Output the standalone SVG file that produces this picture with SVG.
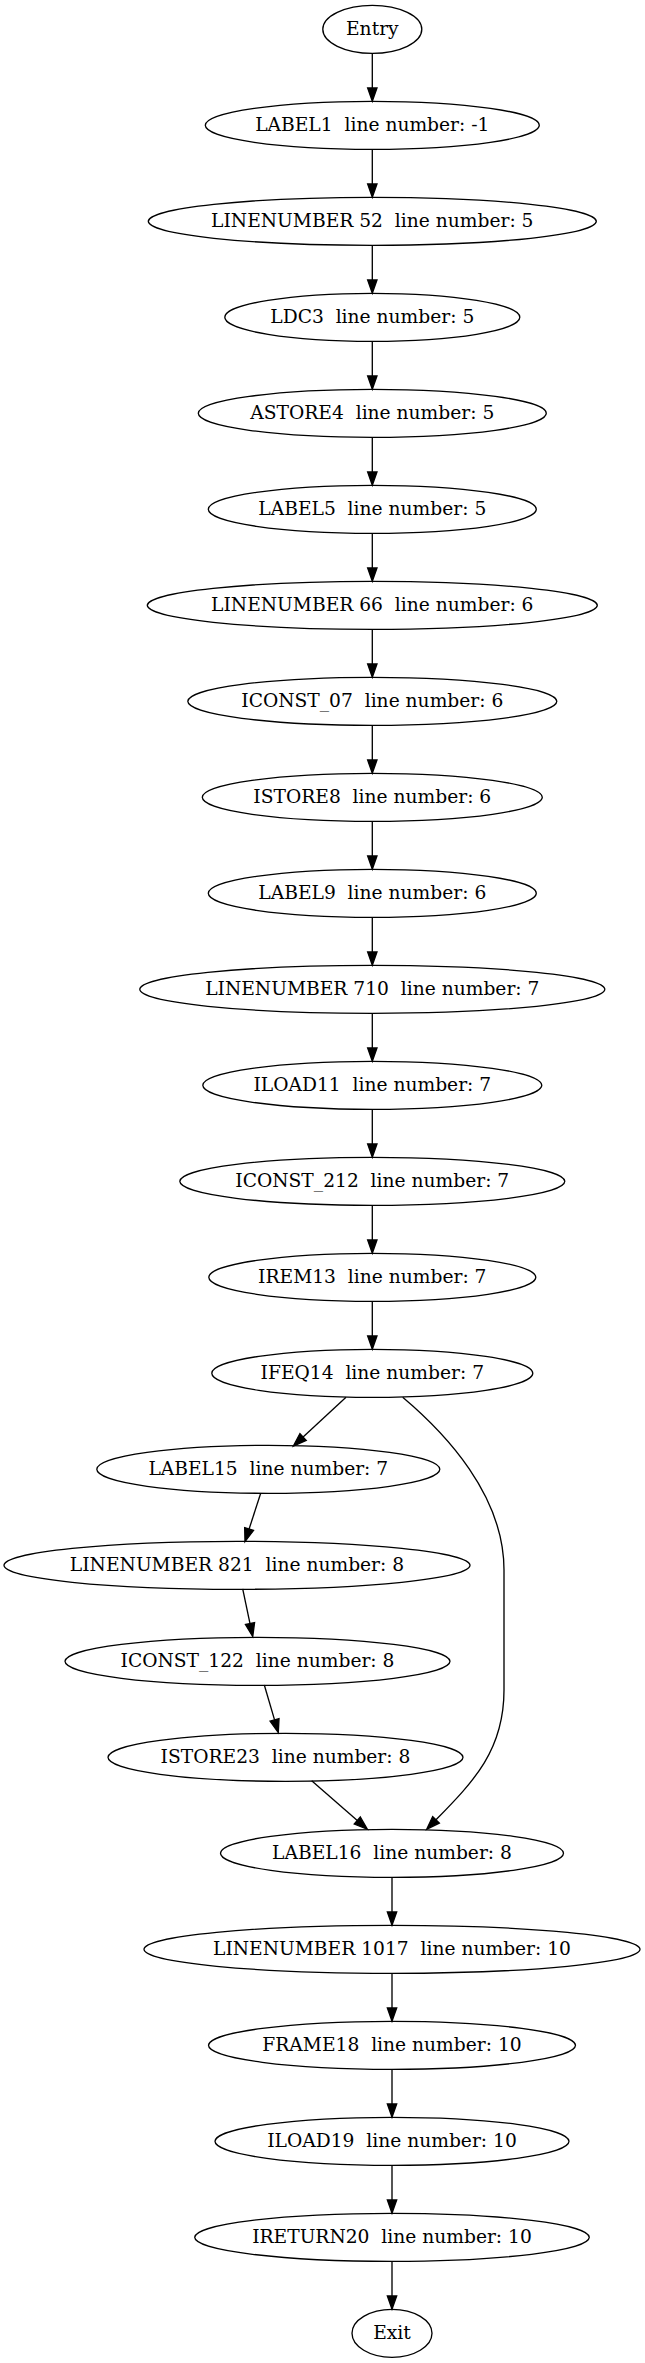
<svg xmlns="http://www.w3.org/2000/svg" width="645" height="2363" viewBox="0 0 645 2363">
<style>
.n ellipse{fill:none;stroke:#000;stroke-width:1.33}
.n text{font-family:"DejaVu Serif",serif;font-size:18.67px;text-anchor:middle;fill:#000;white-space:pre}
.e path{fill:none;stroke:#000;stroke-width:1.33;marker-end:url(#ah)}
</style>
<defs>
<marker id="ah" markerUnits="userSpaceOnUse" markerWidth="16" markerHeight="12" refX="0" refY="4.67" orient="auto" overflow="visible">
<path d="M0,0 L13.33,4.67 L0,9.33 z" fill="#000" stroke="#000" stroke-width="1.33"/>
</marker>
</defs>
<rect width="645" height="2363" fill="#fff"/>
<g id="edges" class="e">
<path d="M372.3,53.33 L372.3,88"/>
<path d="M372.3,149.33 L372.3,184"/>
<path d="M372.3,245.33 L372.3,280"/>
<path d="M372.3,341.33 L372.3,376"/>
<path d="M372.3,437.33 L372.3,472"/>
<path d="M372.3,533.33 L372.3,568"/>
<path d="M372.3,629.33 L372.3,664"/>
<path d="M372.3,725.33 L372.3,760"/>
<path d="M372.3,821.33 L372.3,856"/>
<path d="M372.3,917.33 L372.3,952"/>
<path d="M372.3,1013.33 L372.3,1048"/>
<path d="M372.3,1109.33 L372.3,1144"/>
<path d="M372.3,1205.33 L372.3,1240"/>
<path d="M372.3,1301.33 L372.3,1336"/>
<path d="M346,1397.3 L303.1,1437"/>
<path d="M402.7,1397.3 C445,1433 504,1495 504,1570 L504,1690 C504,1750 474,1781 436,1819.8"/>
<path d="M260.7,1493.3 L249.1,1529"/>
<path d="M242.7,1588.8 L250,1623.6"/>
<path d="M264.3,1685 L274.55,1719.9"/>
<path d="M311.7,1780.7 L357.3,1820.5"/>
<path d="M392,1877.33 L392,1912"/>
<path d="M392,1973.33 L392,2008"/>
<path d="M392,2069.33 L392,2104"/>
<path d="M392,2165.33 L392,2200"/>
<path d="M392,2261.33 L392,2296"/>
</g>
<g id="n0" class="n"><ellipse cx="372.3" cy="29.33" rx="49.5" ry="24"/><text x="372.3" y="34.9">Entry</text></g>
<g id="n1" class="n"><ellipse cx="372.3" cy="125.33" rx="167" ry="24"/><text x="372.3" y="130.9">LABEL1  line number: -1</text></g>
<g id="n2" class="n"><ellipse cx="372.3" cy="221.33" rx="224" ry="24"/><text x="372.3" y="226.9">LINENUMBER 52  line number: 5</text></g>
<g id="n3" class="n"><ellipse cx="372.3" cy="317.33" rx="147.5" ry="24"/><text x="372.3" y="322.9">LDC3  line number: 5</text></g>
<g id="n4" class="n"><ellipse cx="372.3" cy="413.33" rx="174" ry="24"/><text x="372.3" y="418.9">ASTORE4  line number: 5</text></g>
<g id="n5" class="n"><ellipse cx="372.3" cy="509.33" rx="164" ry="24"/><text x="372.3" y="514.9">LABEL5  line number: 5</text></g>
<g id="n6" class="n"><ellipse cx="372.3" cy="605.33" rx="225" ry="24"/><text x="372.3" y="610.9">LINENUMBER 66  line number: 6</text></g>
<g id="n7" class="n"><ellipse cx="372.3" cy="701.33" rx="184.5" ry="24"/><text x="372.3" y="706.9">ICONST_07  line number: 6</text></g>
<g id="n8" class="n"><ellipse cx="372.3" cy="797.33" rx="170" ry="24"/><text x="372.3" y="802.9">ISTORE8  line number: 6</text></g>
<g id="n9" class="n"><ellipse cx="372.3" cy="893.33" rx="164" ry="24"/><text x="372.3" y="898.9">LABEL9  line number: 6</text></g>
<g id="n10" class="n"><ellipse cx="372.3" cy="989.33" rx="232.5" ry="24"/><text x="372.3" y="994.9">LINENUMBER 710  line number: 7</text></g>
<g id="n11" class="n"><ellipse cx="372.3" cy="1085.33" rx="169.5" ry="24"/><text x="372.3" y="1090.9">ILOAD11  line number: 7</text></g>
<g id="n12" class="n"><ellipse cx="372.3" cy="1181.33" rx="192.5" ry="24"/><text x="372.3" y="1186.9">ICONST_212  line number: 7</text></g>
<g id="n13" class="n"><ellipse cx="372.3" cy="1277.33" rx="163.5" ry="24"/><text x="372.3" y="1282.9">IREM13  line number: 7</text></g>
<g id="n14" class="n"><ellipse cx="372.3" cy="1373.33" rx="160.5" ry="24"/><text x="372.3" y="1378.9">IFEQ14  line number: 7</text></g>
<g id="n15" class="n"><ellipse cx="268.3" cy="1469.33" rx="171.5" ry="24"/><text x="268.3" y="1474.9">LABEL15  line number: 7</text></g>
<g id="n16" class="n"><ellipse cx="237" cy="1565.33" rx="233" ry="24"/><text x="237" y="1570.9">LINENUMBER 821  line number: 8</text></g>
<g id="n17" class="n"><ellipse cx="257.5" cy="1661.33" rx="192.5" ry="24"/><text x="257.5" y="1666.9">ICONST_122  line number: 8</text></g>
<g id="n18" class="n"><ellipse cx="285.5" cy="1757.33" rx="177.5" ry="24"/><text x="285.5" y="1762.9">ISTORE23  line number: 8</text></g>
<g id="n19" class="n"><ellipse cx="392" cy="1853.33" rx="171.5" ry="24"/><text x="392" y="1858.9">LABEL16  line number: 8</text></g>
<g id="n20" class="n"><ellipse cx="392" cy="1949.33" rx="248" ry="24"/><text x="392" y="1954.9">LINENUMBER 1017  line number: 10</text></g>
<g id="n21" class="n"><ellipse cx="392" cy="2045.33" rx="183.5" ry="24"/><text x="392" y="2050.9">FRAME18  line number: 10</text></g>
<g id="n22" class="n"><ellipse cx="392" cy="2141.33" rx="177" ry="24"/><text x="392" y="2146.9">ILOAD19  line number: 10</text></g>
<g id="n23" class="n"><ellipse cx="392" cy="2237.33" rx="197.3" ry="24"/><text x="392" y="2242.9">IRETURN20  line number: 10</text></g>
<g id="n24" class="n"><ellipse cx="392" cy="2333.33" rx="40" ry="24"/><text x="392" y="2338.9">Exit</text></g>
</svg>
